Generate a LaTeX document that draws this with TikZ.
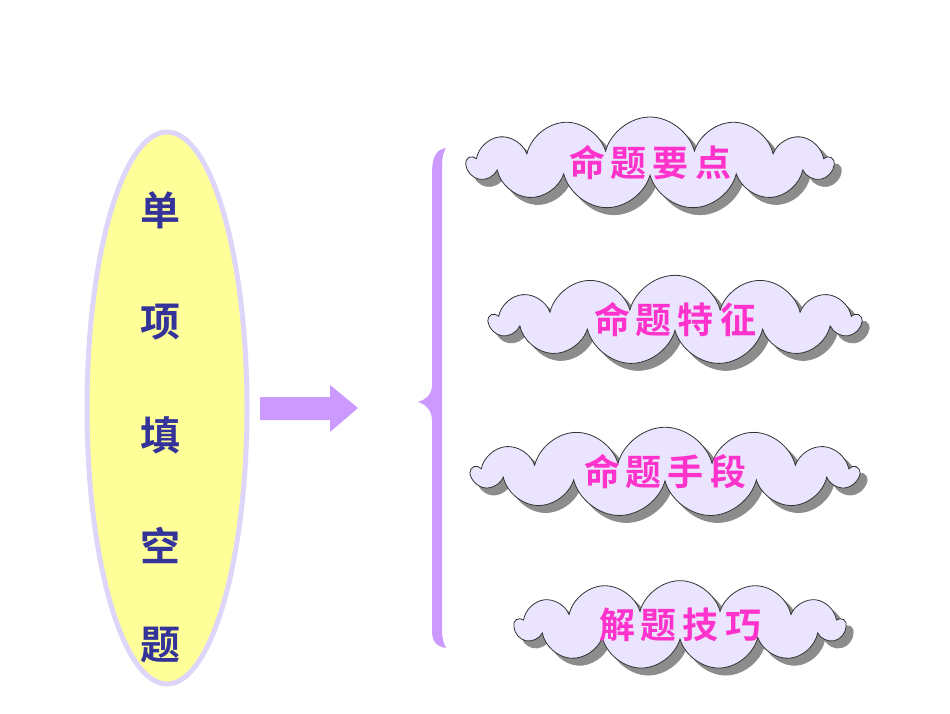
\documentclass[tikz,border=0pt]{standalone}
\usepackage{fontspec}
\newfontfamily\cjk{Noto Sans CJK SC}[BoldFont={Noto Sans CJK SC Bold}]
\usetikzlibrary{shapes.symbols,shapes.geometric,shadows}
\definecolor{ellfill}{RGB}{255,255,153}
\definecolor{ellline}{RGB}{222,214,250}
\definecolor{navy}{RGB}{51,51,153}
\definecolor{lav}{RGB}{204,153,255}
\definecolor{cloudfill}{RGB}{234,228,255}
\definecolor{pinktxt}{RGB}{255,51,204}
\tikzset{
  cloudbox/.style={cloud, cloud puffs=13, cloud ignores aspect, draw=black!80, line width=0.8pt, fill=cloudfill,
    copy shadow={shadow xshift=7pt, shadow yshift=-7pt, fill=black!45, draw=black!45},
    font=\cjk\bfseries\fontsize{36}{36}\selectfont, text=pinktxt, inner sep=0pt},
  vchar/.style={font=\cjk\bfseries\fontsize{40}{40}\selectfont, text=navy}
}
\begin{document}
\begin{tikzpicture}[x=1pt,y=-1pt]
\useasboundingbox[fill=white] (0,0) rectangle (950,713);
\node[ellipse, draw=ellline, line width=5pt, fill=ellfill, minimum width=160pt, minimum height=552pt] (ell) at (167,408) {};
\node[vchar] (c1) at (160,210) {单};
\node[vchar] (c2) at (160,322) {项};
\node[vchar] (c3) at (160,435) {填};
\node[vchar] (c4) at (160,545) {空};
\node[vchar] (c5) at (160,645) {题};
\fill[lav] (260,397) -- (330,397) -- (330,385) -- (358,408) -- (330,432) -- (330,420) -- (260,420) -- cycle;
\fill[lav] (446,148) .. controls (434,150) and (432,160) .. (432,175) -- (432,385) .. controls (432,395) and (425,400) .. (418,402)
  .. controls (425,404) and (432,410) .. (432,420) -- (432,630) .. controls (432,642) and (436,646) .. (446,648)
  .. controls (442,640) and (442,635) .. (442,625) -- (442,175) .. controls (442,160) and (442,155) .. (446,148) -- cycle;
\node[cloudbox, minimum width=365pt, minimum height=92pt] (k1) at (650,163) {命\,题\,要\,点};
\node[cloudbox, minimum width=370pt, minimum height=88pt] (k2) at (675,320) {命\,题\,特\,征};
\node[cloudbox, minimum width=385pt, minimum height=86pt] (k3) at (665,472) {命\,题\,手\,段};
\node[cloudbox, minimum width=330pt, minimum height=82pt] (k4) at (680,625) {解\,题\,技\,巧};
\end{tikzpicture}
\end{document}
